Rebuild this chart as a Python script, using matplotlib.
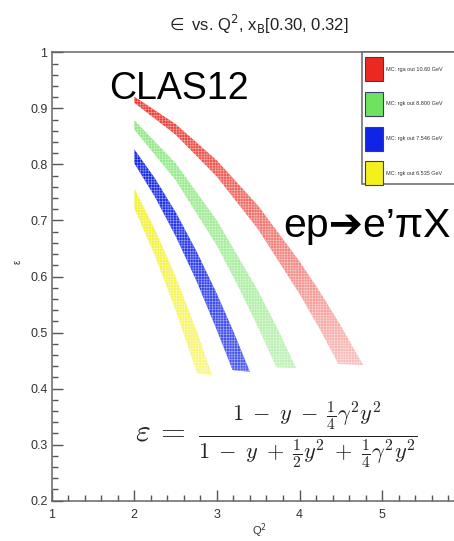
import numpy as np
import matplotlib
matplotlib.use("Agg")
import matplotlib.pyplot as plt
from matplotlib.patches import Polygon, Rectangle

# band edges (Q^2, epsilon), upper edge and lower edge
red_q2_up = [2.0, 2.5, 3.0, 3.5, 4.0, 4.25, 4.5, 4.77]
red_eps_up = [0.921, 0.872, 0.807, 0.726, 0.627, 0.572, 0.512, 0.442]
red_q2_lo = [2.0, 2.5, 3.0, 3.5, 4.0, 4.25, 4.47]
red_eps_lo = [0.910, 0.853, 0.778, 0.684, 0.569, 0.505, 0.444]

green_q2_up = [2.0, 2.5, 3.0, 3.5, 3.75, 3.96]
green_eps_up = [0.879, 0.802, 0.700, 0.574, 0.502, 0.436]
green_q2_lo = [2.0, 2.5, 3.0, 3.25, 3.5, 3.72]
green_eps_lo = [0.862, 0.772, 0.655, 0.585, 0.509, 0.438]

blue_q2_up = [2.0, 2.25, 2.5, 2.75, 3.0, 3.2, 3.40]
blue_eps_up = [0.827, 0.775, 0.715, 0.646, 0.569, 0.502, 0.430]
blue_q2_lo = [2.0, 2.25, 2.5, 2.75, 3.0, 3.19]
blue_eps_lo = [0.802, 0.742, 0.672, 0.593, 0.504, 0.433]

yellow_q2_up = [2.0, 2.25, 2.5, 2.75, 2.94]
yellow_eps_up = [0.757, 0.684, 0.600, 0.505, 0.424]
yellow_q2_lo = [2.0, 2.25, 2.5, 2.76]
yellow_eps_lo = [0.722, 0.637, 0.540, 0.427]

labels = ["MC: rga out 10.60 GeV", "MC: rgk out 8.800 GeV",
          "MC: rgk out 7.546 GeV", "MC: rgk out 6.535 GeV"]
colors = ["#ea2a20", "#6fe35f", "#1024e8", "#f4f01c"]

W, H = 454, 541


def fx(x):
    return x / W


def fy(y):
    return 1 - y / H


plt.rcParams['font.family'] = ['Liberation Sans', 'DejaVu Sans']
plt.rcParams['mathtext.fontset'] = 'dejavusans'
plt.rcParams['hatch.linewidth'] = 0.35

fig = plt.figure(figsize=(4.54, 5.41), dpi=100)
ax = fig.add_axes([fx(51.7), fy(500.7), 413 / W, 448.4 / H])
ax.set_xlim(1, 6)
ax.set_ylim(0.2, 1.0)

bands = [
    (red_q2_up, red_eps_up, red_q2_lo, red_eps_lo, (0.95, 0.3)),
    (green_q2_up, green_eps_up, green_q2_lo, green_eps_lo, (0.8, 0.45)),
    (blue_q2_up, blue_eps_up, blue_q2_lo, blue_eps_lo, (1.0, 0.75)),
    (yellow_q2_up, yellow_eps_up, yellow_q2_lo, yellow_eps_lo, (0.95, 0.55)),
]

for (qu, eu, ql, el, (a_top, a_bot)), c in zip(bands, colors):
    pts = list(zip(qu, eu)) + list(zip(ql[::-1], el[::-1]))
    poly = Polygon(pts, closed=True, facecolor='none', edgecolor='none')
    ax.add_patch(poly)
    rgb = matplotlib.colors.to_rgb(c)
    n = 64
    img = np.zeros((n, 1, 4))
    img[:, 0, :3] = rgb
    img[:, 0, 3] = np.linspace(a_bot, a_top, n)
    ymin, ymax = min(el + eu), max(el + eu)
    im = ax.imshow(img, extent=[min(qu + ql), max(qu + ql), ymin, ymax],
                   origin='lower', aspect='auto', interpolation='bilinear', zorder=2)
    im.set_clip_path(poly)
    # dotted texture like the original scatter of MC points
    tex = Polygon(pts, closed=True, facecolor='none', edgecolor=(1, 1, 1, 0.6),
                  hatch='++++++', linewidth=0, zorder=3)
    ax.add_patch(tex)

ax.set_xticks([1, 2, 3, 4, 5])
ax.set_xticks(np.arange(1, 6.01, 0.2), minor=True)
ax.set_yticks(np.arange(0.2, 1.01, 0.1))
ax.set_yticks(np.arange(0.2, 1.001, 0.02), minor=True)
ax.set_yticklabels(['0.2', '0.3', '0.4', '0.5', '0.6', '0.7', '0.8', '0.9', '1'])
ax.tick_params(which='both', direction='in', color='#555555', width=1,
               labelsize=9, labelcolor='#333333')
ax.tick_params(which='major', length=8)
ax.tick_params(which='minor', length=4)
ax.tick_params(axis='x', pad=6)
ax.tick_params(axis='y', pad=3)
for s in ax.spines.values():
    s.set_color('#666666')
    s.set_linewidth(1.1)

fig.text(fx(257), fy(24), r"$\in$ vs. Q$^{2}$, x$_{\mathrm{B}}$[0.30, 0.32]",
         ha='center', va='center', fontsize=12, color='#222222')
fig.text(fx(259), fy(531), r"Q$^{2}$", ha='center', va='center',
         fontsize=8, color='#333333')
fig.text(fx(18), fy(262), "ε", ha='center', va='center', fontsize=7,
         rotation=90, color='#333333')

fig.text(fx(109), fy(99), "CLAS12", ha='left', va='baseline', fontsize=27)
fig.text(fx(283), fy(237), "ep➔e’πX", ha='left', va='baseline', fontsize=29.5)
fig.text(fx(276), fy(435),
         r"$\varepsilon\, =\; \frac{1\; -\; y\; -\; \frac{1}{4}\gamma^2 y^2}"
         r"{1\; -\; y\; +\; \frac{1}{2}y^2\; +\; \frac{1}{4}\gamma^2 y^2}$",
         ha='center', va='center', fontsize=23, color='#222222',
         math_fontfamily='cm')

# legend box (extends past the right edge like the original)
fig.patches.append(Rectangle((fx(362), fy(184)), 120 / W, 132 / H,
                             transform=fig.transFigure, facecolor='white',
                             edgecolor='#666666', linewidth=1.1, zorder=5))
box_tops = [57, 92, 127, 161]
for top, c, lab in zip(box_tops, colors, labels):
    fig.patches.append(Rectangle((fx(365), fy(top + 24)), 18 / W, 24 / H,
                                 transform=fig.transFigure, facecolor=c,
                                 edgecolor='#3a3a7a', linewidth=0.8, zorder=6))
    fig.text(fx(386), fy(top + 12), lab, ha='left', va='center',
             fontsize=4, color='#333333', zorder=7)

fig.savefig("out.png", dpi=100)
